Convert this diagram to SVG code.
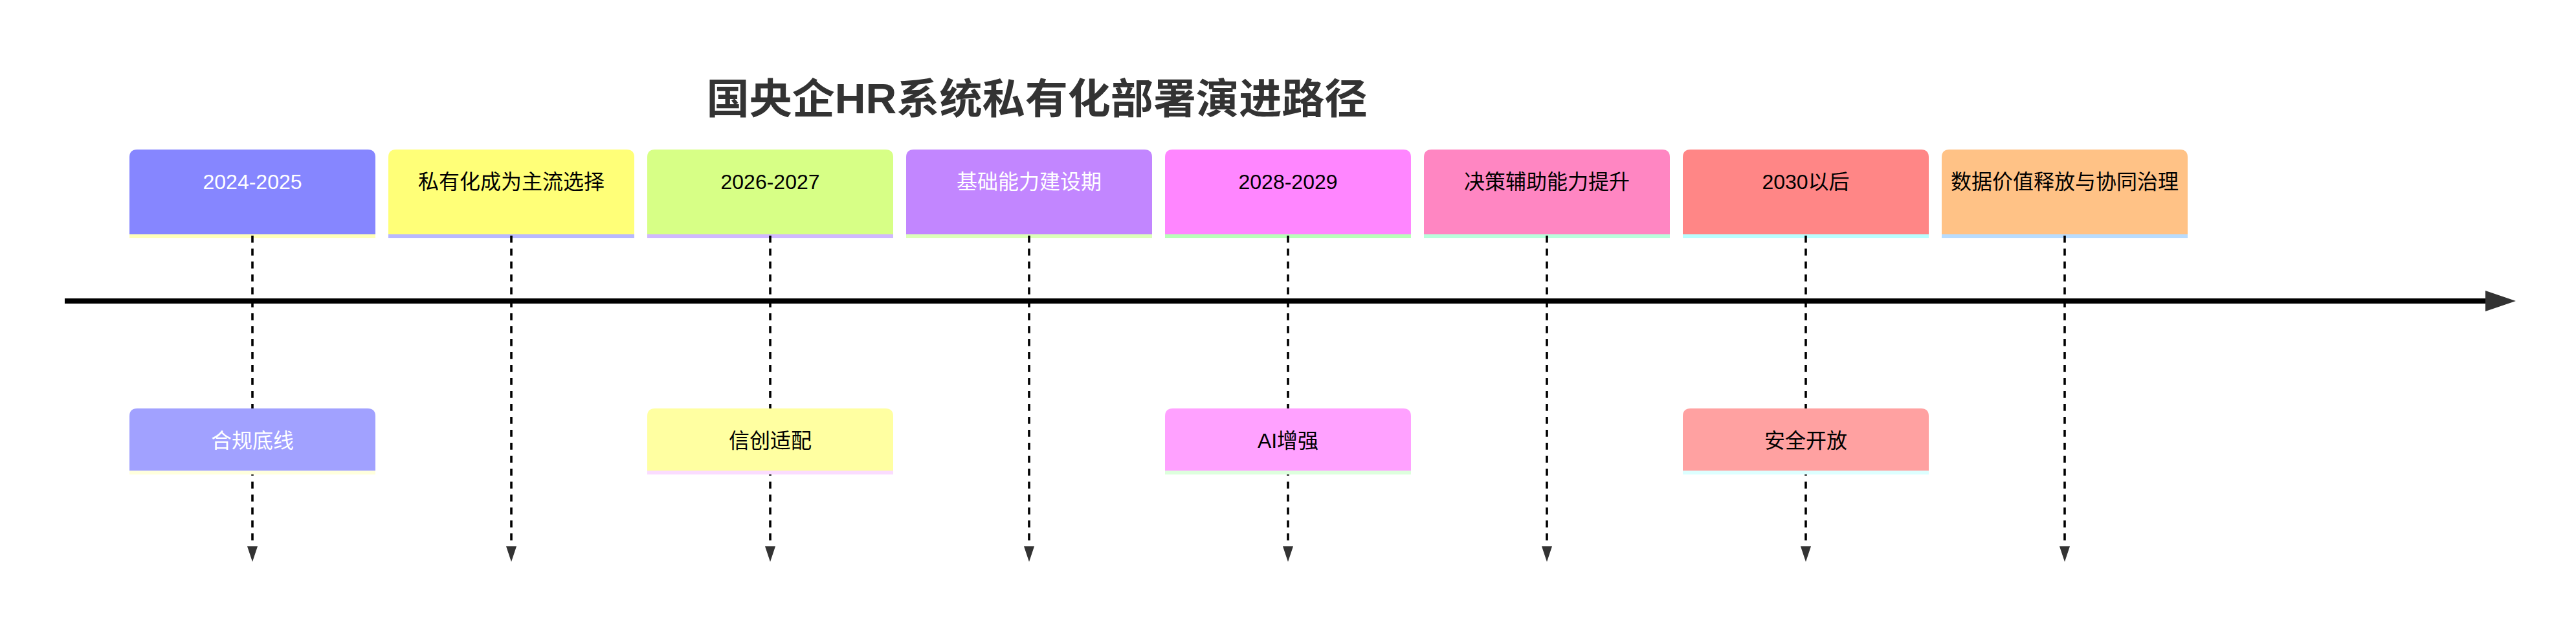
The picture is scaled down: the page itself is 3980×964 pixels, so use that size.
<svg xmlns="http://www.w3.org/2000/svg" width="3980" height="964" viewBox="0 0 3980 964">
<defs>
<style>
.t{font-family:"Liberation Sans","Noto Sans CJK SC",sans-serif;font-size:32px;text-anchor:middle}
.w{fill:#ffffff}.k{fill:#000000}
.title{font-family:"Liberation Sans","Noto Sans CJK SC",sans-serif;font-size:64px;font-weight:bold;fill:#333333;text-anchor:middle}
.vl{stroke:#000;stroke-width:3.6;stroke-dasharray:10.7 9.3;fill:none;marker-end:url(#ad)}
.axis{stroke:#000;stroke-width:8;fill:none;marker-end:url(#ar)}
</style>
<marker id="ad" markerUnits="userSpaceOnUse" markerWidth="24" markerHeight="16" refX="0" refY="8" orient="auto" overflow="visible"><path d="M0,0 L24,8 L0,16 Z" fill="#333"/></marker>
<marker id="ar" markerUnits="userSpaceOnUse" markerWidth="47" markerHeight="32" refX="0" refY="16" orient="auto" overflow="visible"><path d="M0,0 L47,16 L0,32 Z" fill="#333"/></marker>
</defs>
<rect width="3980" height="964" fill="#ffffff"/>
<text id="title" class="title" x="1602" y="175" textLength="1021" lengthAdjust="spacingAndGlyphs">国央企HR系统私有化部署演进路径</text>

<g id="p0"><path d="M200,363 V243 Q200,231 212,231 H568 Q580,231 580,243 V363 Z" fill="#8686ff"/><rect x="200" y="362" width="380" height="6" fill="#ffffb8"/><text class="t w" x="390" y="292">2024-2025</text></g>
<g id="p1"><path d="M600,363 V243 Q600,231 612,231 H968 Q980,231 980,243 V363 Z" fill="#ffff78"/><rect x="600" y="362" width="380" height="6" fill="#b8b8ff"/><text class="t k" x="790" y="292">私有化成为主流选择</text></g>
<g id="p2"><path d="M1000,363 V243 Q1000,231 1012,231 H1368 Q1380,231 1380,243 V363 Z" fill="#d7ff86"/><rect x="1000" y="362" width="380" height="6" fill="#d0b8ff"/><text class="t k" x="1190" y="292">2026-2027</text></g>
<g id="p3"><path d="M1400,363 V243 Q1400,231 1412,231 H1768 Q1780,231 1780,243 V363 Z" fill="#c286ff"/><rect x="1400" y="362" width="380" height="6" fill="#dcffb8"/><text class="t w" x="1590" y="292">基础能力建设期</text></g>
<g id="p4"><path d="M1800,363 V243 Q1800,231 1812,231 H2168 Q2180,231 2180,243 V363 Z" fill="#ff86ff"/><rect x="1800" y="362" width="380" height="6" fill="#b8ffb8"/><text class="t k" x="1990" y="292">2028-2029</text></g>
<g id="p5"><path d="M2200,363 V243 Q2200,231 2212,231 H2568 Q2580,231 2580,243 V363 Z" fill="#ff86c2"/><rect x="2200" y="362" width="380" height="6" fill="#b8ffdc"/><text class="t k" x="2390" y="292">决策辅助能力提升</text></g>
<g id="p6"><path d="M2600,363 V243 Q2600,231 2612,231 H2968 Q2980,231 2980,243 V363 Z" fill="#ff8686"/><rect x="2600" y="362" width="380" height="6" fill="#b8ffff"/><text class="t k" x="2790" y="292">2030以后</text></g>
<g id="p7"><path d="M3000,363 V243 Q3000,231 3012,231 H3368 Q3380,231 3380,243 V363 Z" fill="#ffc286"/><rect x="3000" y="362" width="380" height="6" fill="#b8dcff"/><text class="t k" x="3190" y="292">数据价值释放与协同治理</text></g>

<g id="connectors">
<line class="axis" x1="100" y1="465" x2="3840" y2="465"/>
<line class="vl" x1="390" y1="364" x2="390" y2="844"/>
<line class="vl" x1="790" y1="364" x2="790" y2="844"/>
<line class="vl" x1="1190" y1="364" x2="1190" y2="844"/>
<line class="vl" x1="1590" y1="364" x2="1590" y2="844"/>
<line class="vl" x1="1990" y1="364" x2="1990" y2="844"/>
<line class="vl" x1="2390" y1="364" x2="2390" y2="844"/>
<line class="vl" x1="2790" y1="364" x2="2790" y2="844"/>
<line class="vl" x1="3190" y1="364" x2="3190" y2="844"/>
</g>

<g id="e0"><path d="M200,728 V643 Q200,631 212,631 H568 Q580,631 580,643 V728 Z" fill="#a1a1ff"/><rect x="200" y="727" width="380" height="6" fill="#ffffdd"/><text class="t w" x="390" y="692">合规底线</text></g>
<g id="e2"><path d="M1000,728 V643 Q1000,631 1012,631 H1368 Q1380,631 1380,643 V728 Z" fill="#ffffa1"/><rect x="1000" y="727" width="380" height="6" fill="#fadcff"/><text class="t k" x="1190" y="692">信创适配</text></g>
<g id="e4"><path d="M1800,728 V643 Q1800,631 1812,631 H2168 Q2180,631 2180,643 V728 Z" fill="#ffa1ff"/><rect x="1800" y="727" width="380" height="6" fill="#ddffdd"/><text class="t k" x="1990" y="692">AI增强</text></g>
<g id="e6"><path d="M2600,728 V643 Q2600,631 2612,631 H2968 Q2980,631 2980,643 V728 Z" fill="#ffa1a1"/><rect x="2600" y="727" width="380" height="6" fill="#ddffff"/><text class="t k" x="2790" y="692">安全开放</text></g>
</svg>
